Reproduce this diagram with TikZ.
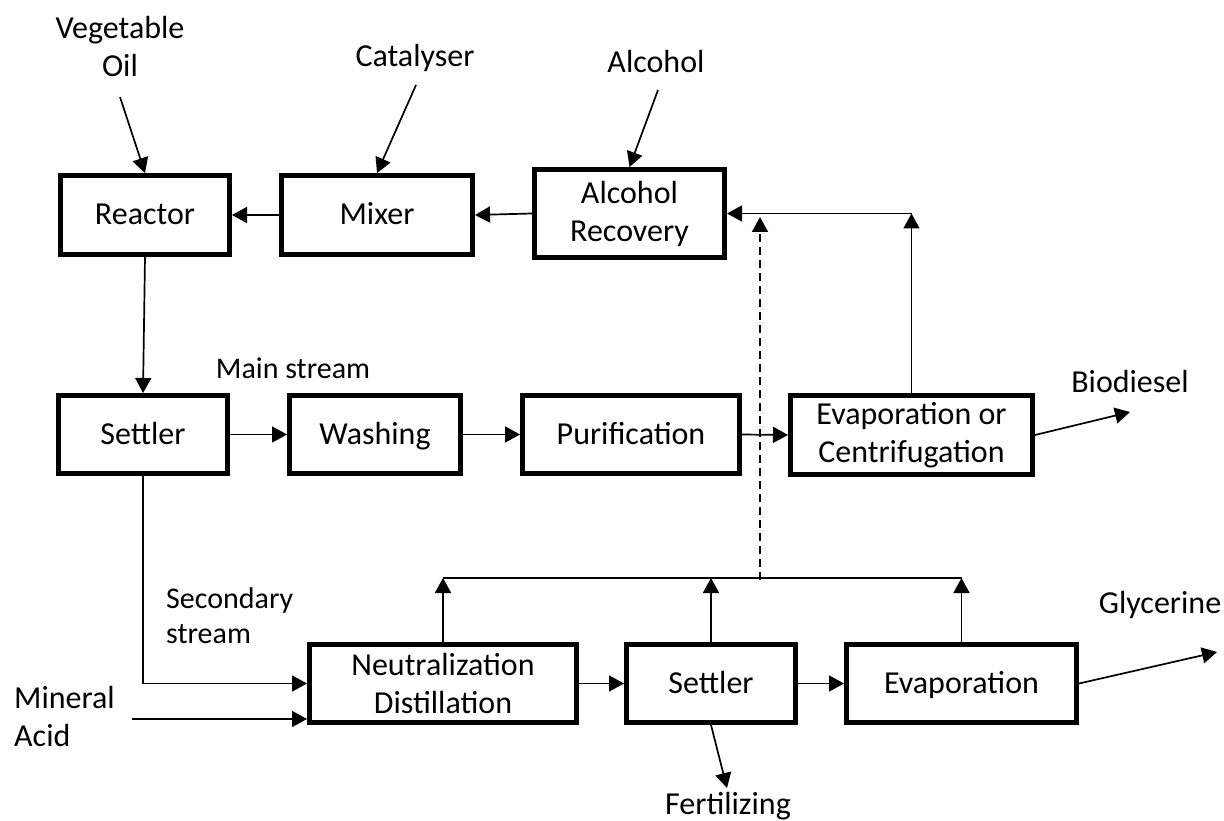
\documentclass[tikz,border=0pt]{standalone}
\usepackage{fontspec}
\setmainfont{Carlito}
\usetikzlibrary{arrows.meta,calc}
\begin{document}
\begin{tikzpicture}[x=1pt,y=-1pt,
  box/.style={draw, line width=5pt, rectangle, align=center, inner sep=0pt,
    font=\fontsize{32}{38}\selectfont},
  onebox/.style={box, text height=26pt, text depth=6pt},
  lbl/.style={inner sep=0pt, font=\fontsize{32}{38}\selectfont},
  slbl/.style={inner sep=0pt, font=\fontsize{30}{35}\selectfont},
  arr/.style={line width=1.7pt, -{Triangle[length=15pt,width=16pt]}},
  ln/.style={line width=1.7pt}]
\useasboundingbox (0,0) rectangle (1224,821);

% process boxes
\node[onebox, minimum width=169pt, minimum height=79pt] (reactor) at (145,215) {Reactor};
\node[onebox, minimum width=191pt, minimum height=79pt] (mixer) at (377,215) {Mixer};
\node[box, minimum width=190pt, minimum height=88pt] (alcrec) at (629.5,213.5) {Alcohol\\Recovery};
\node[onebox, minimum width=169pt, minimum height=78pt] (settler) at (143,434.5) {Settler};
\node[onebox, minimum width=171pt, minimum height=78pt] (washing) at (375,434.5) {Washing};
\node[onebox, minimum width=217pt, minimum height=78pt] (purif) at (631,434.5) {Purification};
\node[box, minimum width=242pt, minimum height=79pt] (evapcent) at (911.5,435) {Evaporation or\\Centrifugation};
\node[box, minimum width=267pt, minimum height=78pt] (neut) at (443,683.5) {Neutralization\\Distillation};
\node[onebox, minimum width=169pt, minimum height=78pt] (settlertwo) at (711,683.5) {Settler};
\node[onebox, minimum width=230pt, minimum height=78pt] (evap) at (961.5,683.5) {Evaporation};

% labels
\node[lbl, align=center] (vegoil) at (120,47) {Vegetable\\Oil};
\node[lbl, anchor=base] (cat) at (415,67) {Catalyser};
\node[lbl, anchor=base] (alc) at (656,73) {Alcohol};
\node[slbl, anchor=base] (mainst) at (293,378) {Main stream};
\node[lbl, anchor=base] (bio) at (1130,392) {Biodiesel};
\node[lbl, anchor=base] (gly) at (1160,613) {Glycerine};
\node[lbl, anchor=base] (fert) at (728,814) {Fertilizing};
\node[slbl, align=left, anchor=north west] (sec) at (166,587) {Secondary\\stream};
\node[lbl, align=left, anchor=north west] (mineral) at (14,686) {Mineral\\Acid};

% free ends
\coordinate (vego) at (120,97);
\coordinate (cato) at (416,85);
\coordinate (alco) at (658,90);
\coordinate (ret) at (evapcent.north |- alcrec.east);
\coordinate (dashlo) at (760,580);
\coordinate (dashhi) at (760,217);
\coordinate (colL) at (neut.north |- 0,578);
\coordinate (colR) at (evap.north |- 0,578);
\coordinate (mina) at (132,719);
\coordinate (fertend) at (727,788);
\coordinate (bioend) at (1130,412);
\coordinate (glyend) at (1217,652);

% inputs
\draw[arr] (vego) -- (reactor.north);
\draw[arr] (cato) -- (mixer.north);
\draw[arr] (alco) -- (alcrec.north);

% top row
\draw[arr] (alcrec.west) -- (mixer.east);
\draw[arr] (mixer.west) -- (reactor.east);
\draw[arr] (reactor.south) -- (settler.north);

% middle row
\draw[arr] (settler.east) -- (washing.west);
\draw[arr] (washing.east) -- (purif.west);
\draw[arr] (purif.east) -- (evapcent.west);
\draw[arr] (evapcent.north) -- (ret);
\draw[arr] (ret) -- (alcrec.east);
\draw[arr] (evapcent.east) -- (bioend);

% recycle (dashed)
\draw[arr, dashed, dash pattern=on 8pt off 5pt] (dashlo) -- (dashhi);

% secondary stream
\draw[arr] (settler.south) |- (neut.west);
\draw[arr] (mina) -- (mina -| neut.west);
\draw[arr] (neut.east) -- (settlertwo.west);
\draw[arr] (settlertwo.east) -- (evap.west);
\draw[arr] (evap.east) -- (glyend);
\draw[arr] (settlertwo.south) -- (fertend);

% collector
\draw[ln] (colL) -- (colR);
\draw[arr] (neut.north) -- (colL);
\draw[arr] (settlertwo.north) -- (settlertwo.north |- colL);
\draw[arr] (evap.north) -- (colR);
\end{tikzpicture}
\end{document}
